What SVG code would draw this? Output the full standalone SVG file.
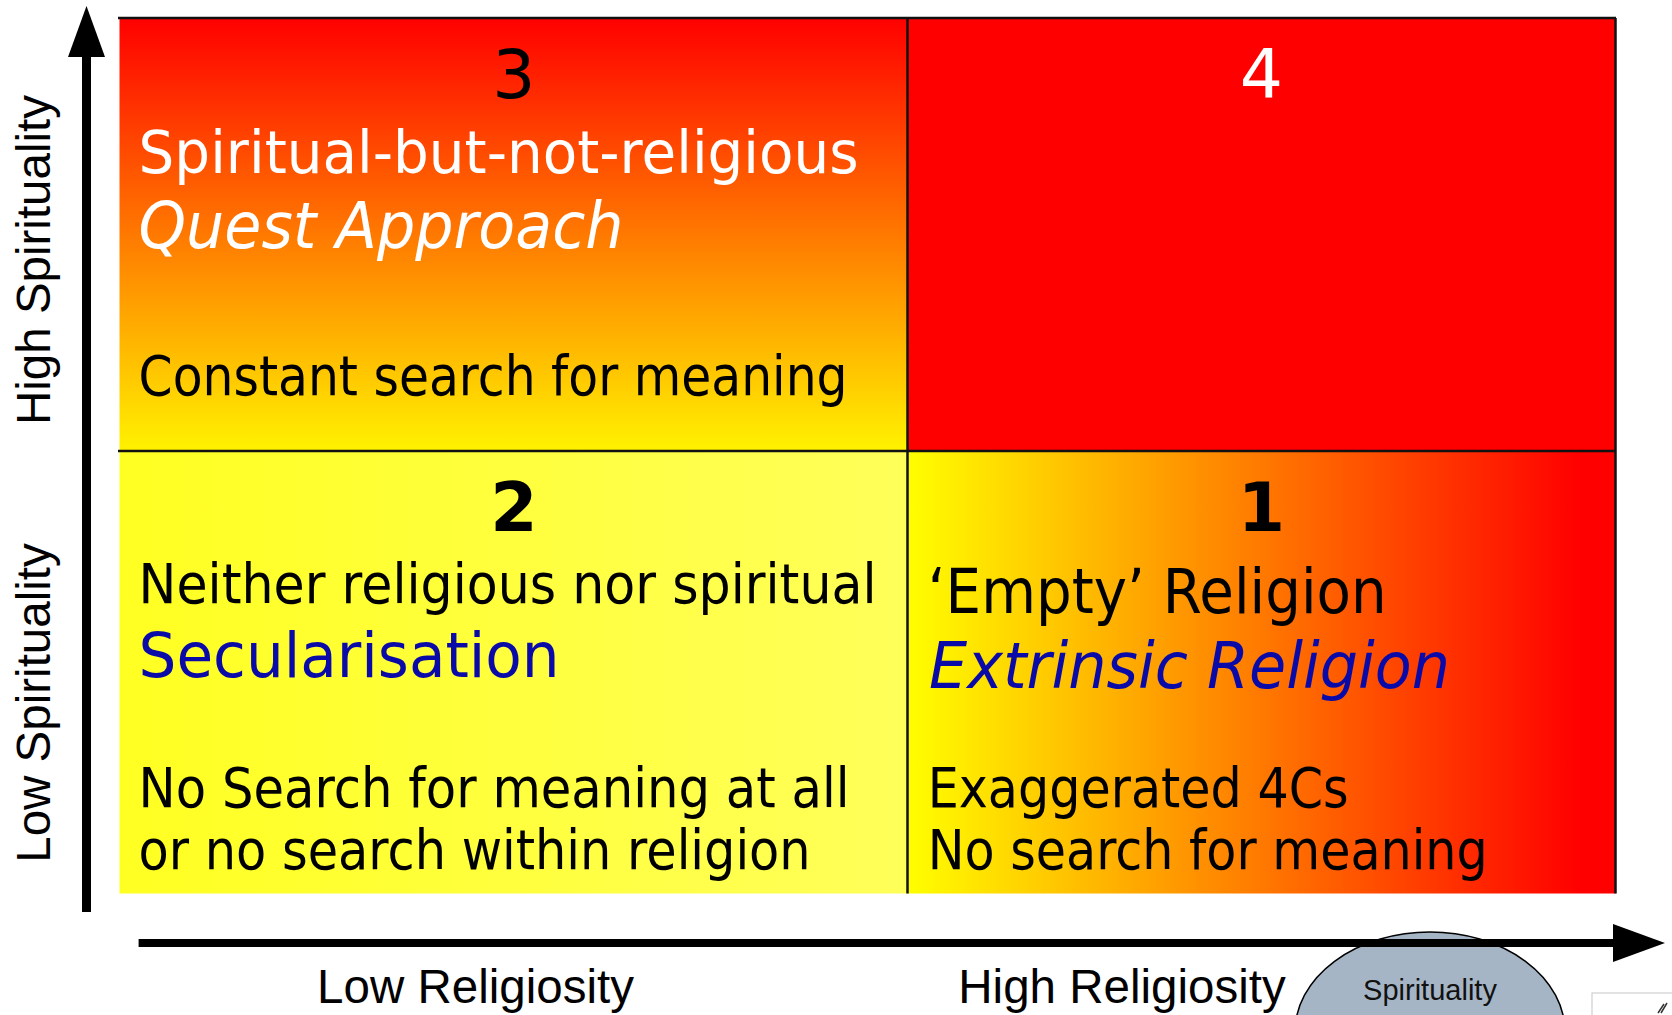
<svg xmlns="http://www.w3.org/2000/svg" width="1672" height="1015" viewBox="0 0 1672 1015">
<style>
.c{font-family:"DejaVu Sans",sans-serif;}
.a{font-family:"Liberation Sans",Arial,sans-serif;font-size:47.5px;fill:#000;}
.w{fill:#fff;}
.k{fill:#000;}
.b{fill:#0a0aa8;}
.it{font-style:italic;}
.num{font-size:68px;text-anchor:middle;}
.grid{stroke:#111;stroke-width:2.5;fill:none;}
</style>
<defs>
<linearGradient id="gQ3" x1="0" y1="0" x2="0" y2="1">
<stop offset="0" stop-color="#ff0000"/>
<stop offset="1" stop-color="#fff200"/>
</linearGradient>
<linearGradient id="gQ1" x1="0" y1="0" x2="1" y2="0">
<stop offset="0" stop-color="#ffff00"/>
<stop offset="0.95" stop-color="#ff0000"/>
<stop offset="1" stop-color="#ff0000"/>
</linearGradient>
<linearGradient id="gQ2" x1="0" y1="0" x2="1" y2="0">
<stop offset="0" stop-color="#ffff22"/>
<stop offset="1" stop-color="#ffff5a"/>
</linearGradient>
</defs>
<rect width="1672" height="1015" fill="#fff"/>

<g id="q3">
<rect x="119.5" y="18" width="788" height="433" fill="url(#gQ3)"/>
<text class="c k num" x="514" y="98">3</text>
<text class="c w" x="138.6" y="173" font-size="58" textLength="720" lengthAdjust="spacingAndGlyphs">Spiritual-but-not-religious</text>
<text class="c w it" x="138.6" y="248" font-size="64" textLength="485" lengthAdjust="spacingAndGlyphs">Quest Approach</text>
<text class="c k" x="138.6" y="394.5" font-size="56" textLength="709" lengthAdjust="spacingAndGlyphs">Constant search for meaning</text>
</g>

<g id="q4">
<rect x="907.5" y="18" width="708" height="433" fill="#ff0000"/>
<text class="c w num" x="1261.5" y="98">4</text>
</g>

<g id="q2">
<rect x="119.5" y="451" width="788" height="442.5" fill="url(#gQ2)"/>
<text class="c k num" x="514" y="531" font-weight="bold">2</text>
<text class="c k" x="138.6" y="602.5" font-size="56" textLength="738" lengthAdjust="spacingAndGlyphs">Neither religious nor spiritual</text>
<text class="c b" x="138.6" y="677" font-size="62" textLength="421" lengthAdjust="spacingAndGlyphs">Secularisation</text>
<text class="c k" x="138.6" y="807" font-size="56" textLength="711" lengthAdjust="spacingAndGlyphs">No Search for meaning at all</text>
<text class="c k" x="138.6" y="869" font-size="56" textLength="672" lengthAdjust="spacingAndGlyphs">or no search within religion</text>
</g>

<g id="q1">
<rect x="907.5" y="451" width="708" height="442.5" fill="url(#gQ1)"/>
<text class="c k num" x="1261.5" y="531" font-weight="bold">1</text>
<text class="c k" x="927.7" y="613" font-size="62" textLength="459" lengthAdjust="spacingAndGlyphs">‘Empty’ Religion</text>
<text class="c b it" x="929" y="688" font-size="64" textLength="521" lengthAdjust="spacingAndGlyphs">Extrinsic Religion</text>
<text class="c k" x="927.7" y="807" font-size="56" textLength="421" lengthAdjust="spacingAndGlyphs">Exaggerated 4Cs</text>
<text class="c k" x="927.7" y="869" font-size="56" textLength="560" lengthAdjust="spacingAndGlyphs">No search for meaning</text>
</g>

<g id="gridlines">
<line class="grid" x1="118" y1="18" x2="1616" y2="18"/>
<line class="grid" x1="118" y1="451" x2="1616" y2="451"/>
<line class="grid" x1="907.5" y1="18" x2="907.5" y2="893.5"/>
<line class="grid" x1="1615.5" y1="18" x2="1615.5" y2="893.5"/>
</g>

<g id="labels">
<text class="a" transform="translate(50,260) rotate(-90)" text-anchor="middle">High Spirituality</text>
<text class="a" transform="translate(50,703) rotate(-90)" text-anchor="middle">Low Spirituality</text>
<text class="a" x="475.5" y="1003" text-anchor="middle">Low Religiosity</text>
<text class="a" x="1122" y="1003" text-anchor="middle">High Religiosity</text>
</g>

<g id="spirituality">
<ellipse cx="1430" cy="1032" rx="135" ry="100" fill="#a5b5c5" stroke="#000" stroke-width="1.5"/>
<text x="1430" y="1000" text-anchor="middle" font-family="Liberation Sans, Arial, sans-serif" font-size="29" fill="#111">Spirituality</text>
</g>

<g id="corner">
<rect x="1592" y="993" width="90" height="40" fill="#fff" stroke="#cfcfcf" stroke-width="1.2"/>
<path d="M1658 1013 L1664 1004 M1661 1013 L1667 1003" stroke="#333" stroke-width="1.5" fill="none"/>
</g>

<g id="connectors">
<rect x="82" y="55" width="9" height="857" fill="#000"/>
<polygon points="86.5,6 105,57 68,57" fill="#000"/>
<rect x="138.6" y="939" width="1476" height="8" fill="#000"/>
<polygon points="1665,943 1613,924 1613,962" fill="#000"/>
</g>
</svg>
